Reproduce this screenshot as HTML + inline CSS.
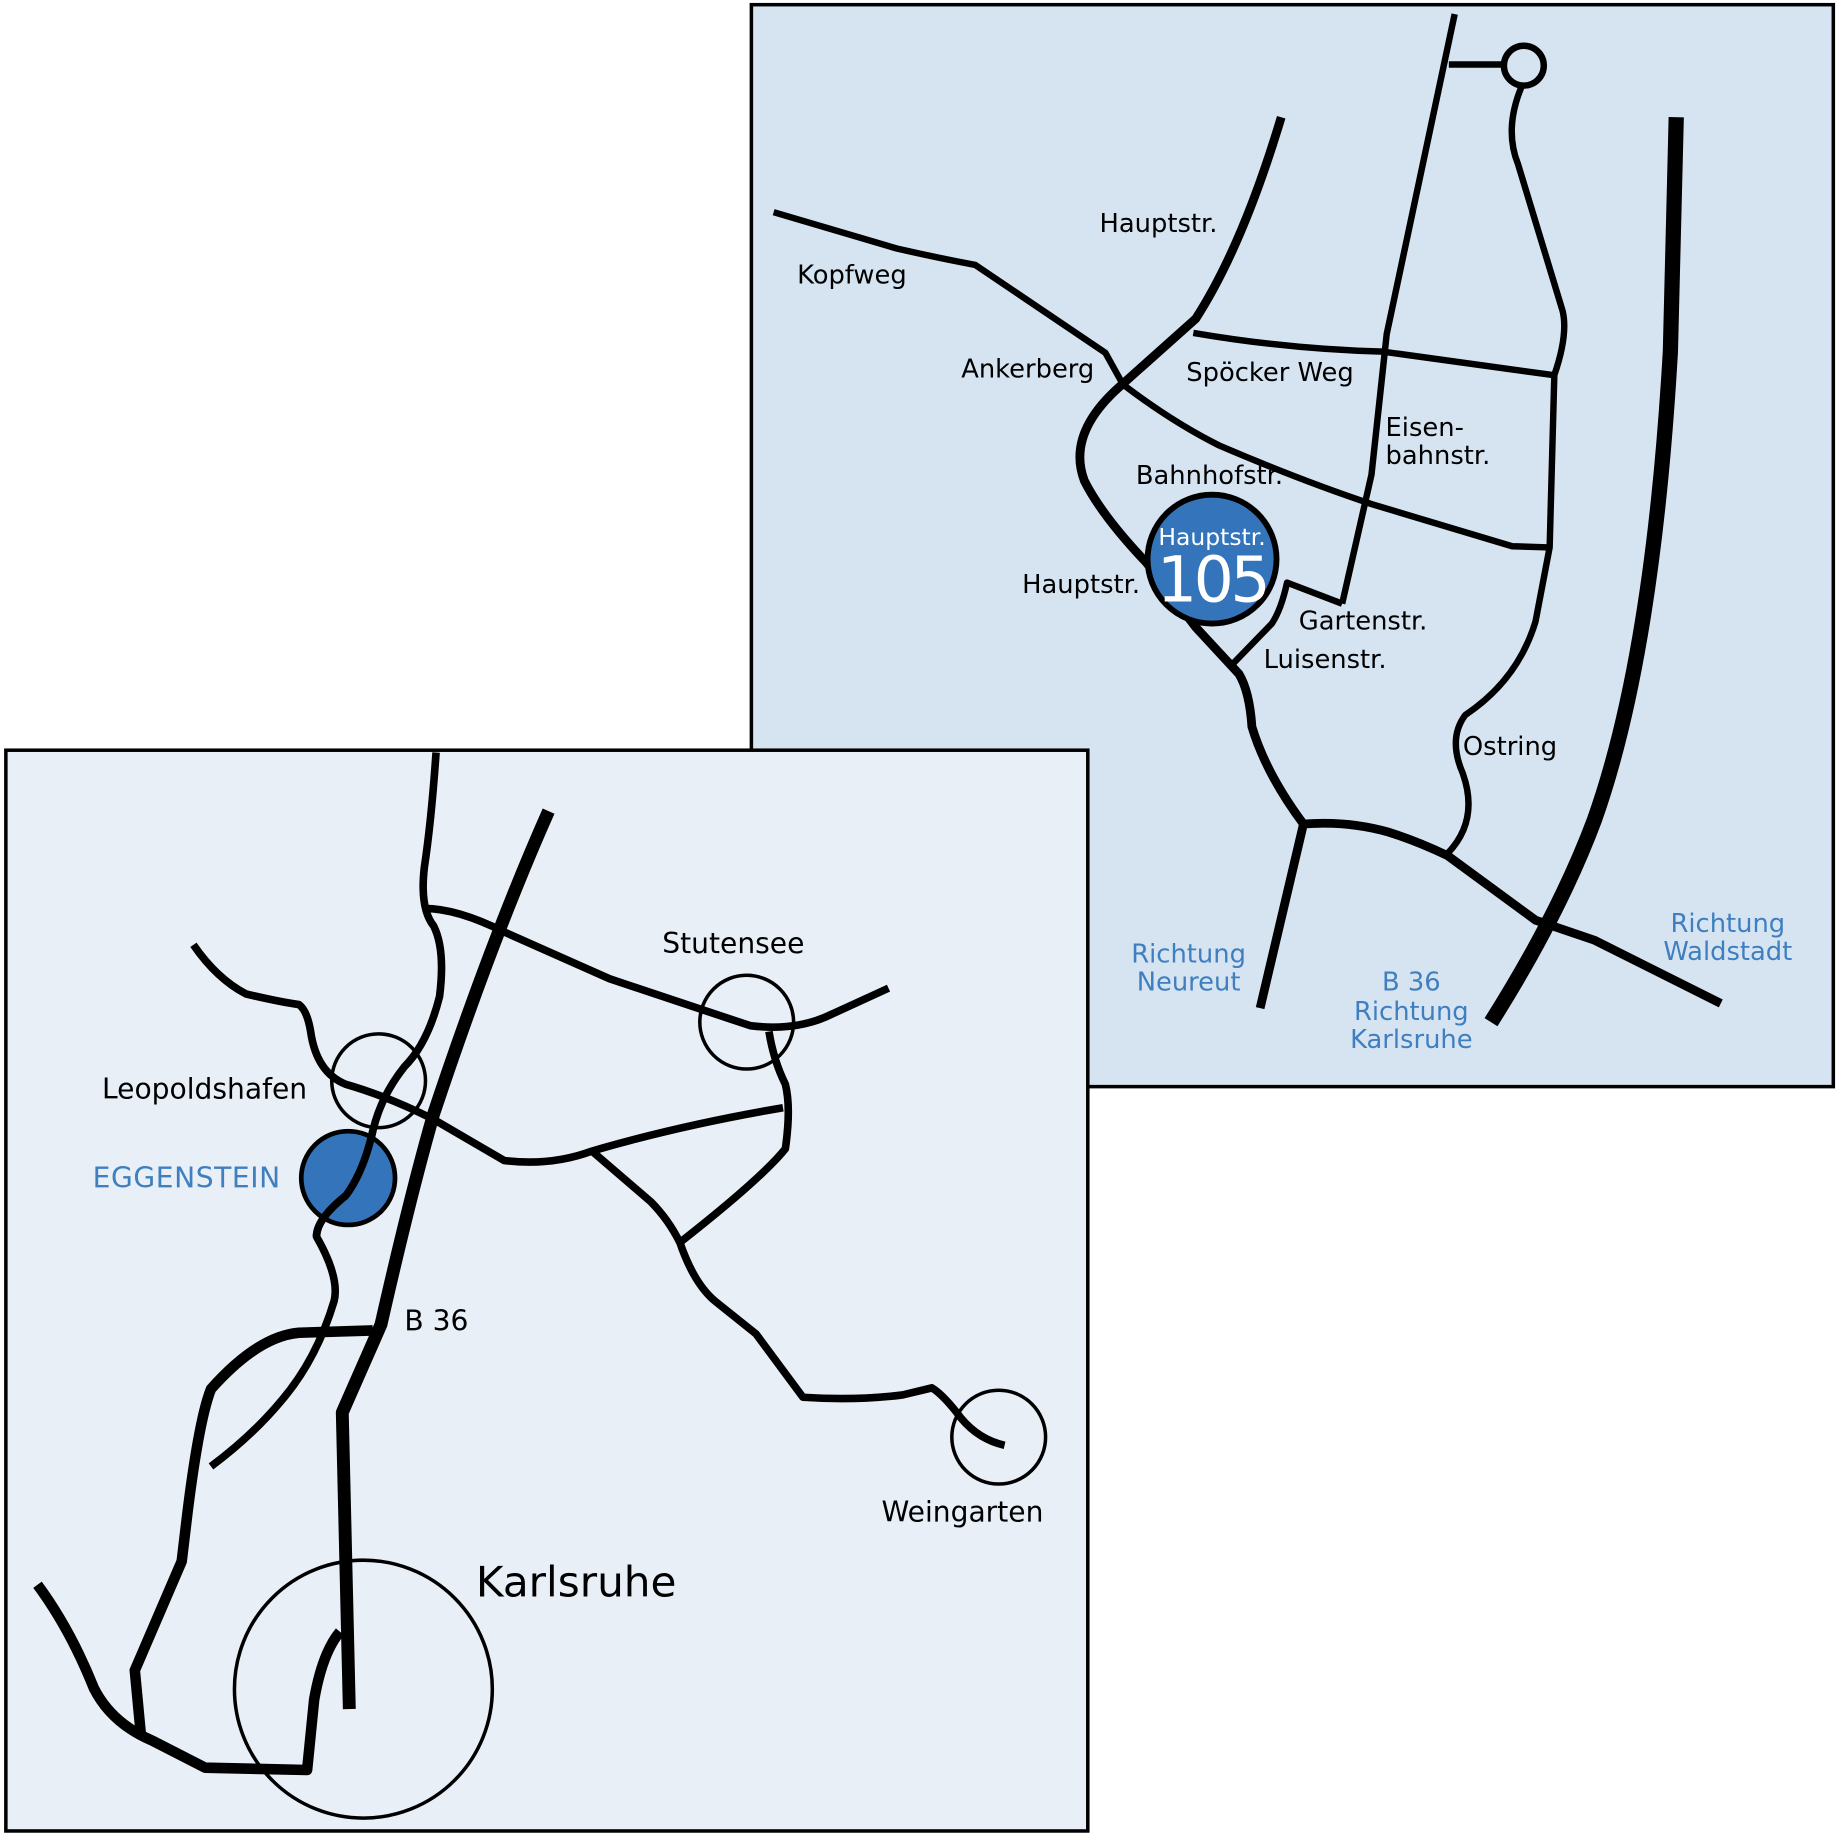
<!DOCTYPE html>
<html><head><meta charset="utf-8"><style>
html,body{margin:0;padding:0;background:#fff}
svg{display:block}
text{font-family:"DejaVu Sans","Liberation Sans",sans-serif}
</style></head><body>
<svg width="1838" height="1838" viewBox="0 0 1568 1568" xmlns="http://www.w3.org/2000/svg">
<rect x="641" y="4" width="923" height="923" fill="#d6e4f2" stroke="#000" stroke-width="3"/>
<g fill="none" stroke="#000" stroke-linecap="butt" stroke-linejoin="round">
<path d="M660,181 L765,212 Q800,220 832,226 L943,301 L958,328 Q1000,360 1040,380 Q1110,410 1170,430 L1290,466 L1322,467" stroke-width="5.5"/>
<path d="M1093,100 Q1060,210 1020,272 L955,330 Q910,370 925,410 Q940,440 978,480 L1020,535 L1057,575 Q1066,590 1068,620 Q1080,660 1112,703 Q1150,700 1185,710 Q1210,718 1235,730 L1310,785 L1360,802 L1468,856" stroke-width="7.5"/>
<path d="M1018,284 Q1100,298 1180,300 L1325,320" stroke-width="5.5"/>
<path d="M1241,12 L1183,285 L1170,405 L1145,515" stroke-width="5.5"/>
<path d="M1236,55 L1283,55" stroke-width="5.5"/>
<circle cx="1300" cy="56" r="17" stroke-width="5.5"/>
<path d="M1298,74 Q1283,110 1295,140 L1333,265 Q1338,285 1326,320 L1322,467 L1310,530 Q1295,580 1250,610 Q1235,630 1248,660 Q1262,700 1235,728" stroke-width="5.5"/>
<path d="M1145,515 L1098,497 Q1093,520 1085,532 L1052,566" stroke-width="5.5"/>
<path d="M1112,703 L1075,860" stroke-width="7.5"/>
<path d="M1430,100 L1425,300 Q1410,560 1360,700 Q1330,780 1272,872" stroke-width="13"/>
</g>
<circle cx="1034" cy="477" r="55" fill="#3474bb" stroke="#000" stroke-width="5"/>
<text x="1034" y="465" fill="#fff" font-size="20" text-anchor="middle">Hauptstr.</text>
<text x="1034" y="513" fill="#fff" font-size="54" text-anchor="middle" letter-spacing="-3">105</text>
<g font-size="22" fill="#000">
<text x="938" y="198">Hauptstr.</text>
<text x="680" y="242">Kopfweg</text>
<text x="820" y="322">Ankerberg</text>
<text x="1012" y="325">Spöcker Weg</text>
<text x="1182" y="372">Eisen-</text>
<text x="1182" y="396">bahnstr.</text>
<text x="969" y="413">Bahnhofstr.</text>
<text x="872" y="506">Hauptstr.</text>
<text x="1108" y="537">Gartenstr.</text>
<text x="1078" y="570">Luisenstr.</text>
<text x="1248" y="644">Ostring</text>
</g>
<g font-size="22" fill="#3f7fc0" text-anchor="middle">
<text x="1014" y="821">Richtung</text><text x="1014" y="845">Neureut</text>
<text x="1204" y="845">B 36</text><text x="1204" y="870">Richtung</text><text x="1204" y="894">Karlsruhe</text>
<text x="1474" y="795">Richtung</text><text x="1474" y="819">Waldstadt</text>
</g>

<rect x="5" y="640" width="923" height="922" fill="#e8eff7" stroke="#000" stroke-width="3"/>
<g fill="none" stroke="#000" stroke-linejoin="round">
<path d="M372,642 Q368,700 362,740 Q358,775 370,790 Q380,810 375,850 Q365,890 345,910 Q325,935 318,965 Q310,1000 295,1020 Q270,1040 270,1055 Q290,1090 285,1110 Q270,1160 240,1195 Q215,1225 180,1251" stroke-width="6.5"/>
<path d="M362,775 Q390,775 430,795 L520,835 Q580,855 640,875 Q680,880 710,865 L758,843" stroke-width="6.5"/>
<path d="M165,806 Q185,835 210,848 Q240,855 255,857 Q262,862 265,880 Q270,915 295,925 Q330,935 370,955 L430,990 Q470,995 505,982 Q580,960 668,945" stroke-width="6.5"/>
<path d="M656,880 Q660,905 670,925 Q675,945 670,980 Q650,1005 580,1060" stroke-width="6.5"/>
<path d="M505,982 L555,1025 Q570,1040 580,1060 Q592,1095 610,1110 L645,1138 L685,1192 Q730,1195 770,1190 L795,1184 Q805,1190 820,1210 Q835,1228 857,1233" stroke-width="6.5"/>
<path d="M468,692 Q420,800 370,950 Q350,1020 325,1130 L292,1205 L298,1458" stroke-width="11"/>
<path d="M318,1135 L255,1137 Q220,1140 180,1185 Q170,1210 160,1290 L155,1332 L115,1425 L120,1478" stroke-width="9"/>
<path d="M32,1352 Q60,1390 80,1440 Q95,1470 130,1485 L175,1508 L262,1510 L268,1450 Q275,1410 290,1392" stroke-width="9"/>
<circle cx="323" cy="922" r="40" stroke-width="3"/>
<circle cx="637" cy="872" r="40" stroke-width="3"/>
<circle cx="852" cy="1226" r="40" stroke-width="3"/>
<circle cx="310" cy="1441" r="110" stroke-width="3"/>
</g>
<circle cx="297" cy="1005" r="40" fill="#3474bb" stroke="#000" stroke-width="4"/>
<path d="M318,965 Q310,1000 295,1020 Q270,1040 270,1055" fill="none" stroke="#000" stroke-width="6.5"/>
<g font-size="24" fill="#000">
<text x="87" y="937">Leopoldshafen</text>
<text x="565" y="813">Stutensee</text>
<text x="345" y="1135">B 36</text>
<text x="752" y="1298">Weingarten</text>
<text x="406" y="1362" font-size="36">Karlsruhe</text>
</g>
<text x="79" y="1013" font-size="24" fill="#3f7fc0" letter-spacing="0.5">EGGENSTEIN</text>
</svg>
</body></html>
